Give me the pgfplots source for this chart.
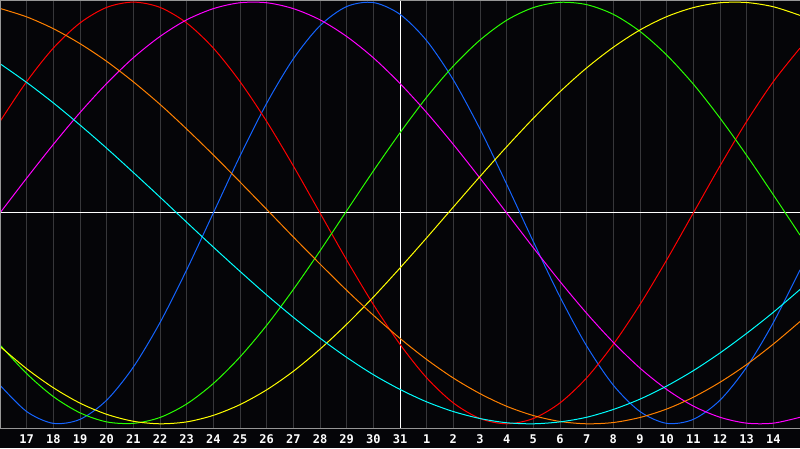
\documentclass[border=0pt]{standalone}
\usepackage{fontspec}
\setmonofont{DejaVu Sans Mono}
\usepackage{pgfplots}
\pgfplotsset{compat=1.18}
\definecolor{bg}{RGB}{5,5,8}
\definecolor{gridgray}{RGB}{55,55,58}
\definecolor{bordergray}{RGB}{150,150,150}
\definecolor{cphys}{RGB}{20,100,255}
\definecolor{cemo}{RGB}{255,0,0}
\definecolor{cint}{RGB}{40,255,0}
\definecolor{cintu}{RGB}{255,0,255}
\definecolor{caes}{RGB}{255,255,0}
\definecolor{cawa}{RGB}{255,128,0}
\definecolor{cspi}{RGB}{0,255,255}
\begin{document}
\begin{tikzpicture}
\fill[bg] (0,-20pt) rectangle (800pt,428pt);
\begin{axis}[at={(0,0)}, anchor=south west, width=800pt, height=428pt, scale only axis,
  xmin=0, xmax=30, ymin=-1.02, ymax=1.01, clip=false,
  axis line style={draw=none}, tick style={draw=none},
  xtick={1,...,29},
  xticklabels={17,18,19,20,21,22,23,24,25,26,27,28,29,30,31,1,2,3,4,5,6,7,8,9,10,11,12,13,14},
  ytick=\empty,
  xmajorgrids, major grid style={color=gridgray, line width=1pt},
  extra x ticks={15}, extra x tick labels={},
  extra y ticks={0}, extra y tick labels={},
  extra tick style={grid=major, major grid style={color=white, line width=1pt}},
  xticklabel style={anchor=base, yshift=-15pt, text=white, inner sep=0pt,
    font=\ttfamily\bfseries\fontsize{12}{12}\selectfont},
  every axis plot/.append style={line width=1pt, smooth, no markers}]
% physical 23
\addplot[cphys] coordinates {(0,-0.817)(1,-0.942)(2,-0.998)(3,-0.979)(4,-0.888)(5,-0.731)(6,-0.520)(7,-0.270)(8,0.000)(9,0.270)(10,0.520)(11,0.731)(12,0.888)(13,0.979)(14,0.998)(15,0.942)(16,0.817)(17,0.631)(18,0.398)(19,0.136)(20,-0.136)(21,-0.398)(22,-0.631)(23,-0.817)(24,-0.942)(25,-0.998)(26,-0.979)(27,-0.888)(28,-0.731)(29,-0.520)(30,-0.270)};
% emotional 28
\addplot[cemo] coordinates {(0,0.434)(1,0.623)(2,0.782)(3,0.901)(4,0.975)(5,1.000)(6,0.975)(7,0.901)(8,0.782)(9,0.623)(10,0.434)(11,0.223)(12,0.000)(13,-0.223)(14,-0.434)(15,-0.623)(16,-0.782)(17,-0.901)(18,-0.975)(19,-1.000)(20,-0.975)(21,-0.901)(22,-0.782)(23,-0.623)(24,-0.434)(25,-0.223)(26,0.000)(27,0.223)(28,0.434)(29,0.623)(30,0.782)};
% intellectual 33
\addplot[cint] coordinates {(0,-0.626)(1,-0.762)(2,-0.871)(3,-0.948)(4,-0.991)(5,-0.998)(6,-0.970)(7,-0.906)(8,-0.809)(9,-0.683)(10,-0.533)(11,-0.363)(12,-0.180)(13,0.010)(14,0.199)(15,0.380)(16,0.549)(17,0.697)(18,0.820)(19,0.914)(20,0.974)(21,0.999)(22,0.988)(23,0.942)(24,0.861)(25,0.749)(26,0.611)(27,0.450)(28,0.273)(29,0.086)(30,-0.105)};
% intuitive 38
\addplot[cintu] coordinates {(0,0.000)(1,0.165)(2,0.325)(3,0.476)(4,0.614)(5,0.736)(6,0.837)(7,0.916)(8,0.969)(9,0.997)(10,0.997)(11,0.969)(12,0.916)(13,0.837)(14,0.736)(15,0.614)(16,0.476)(17,0.325)(18,0.165)(19,0.000)(20,-0.165)(21,-0.325)(22,-0.476)(23,-0.614)(24,-0.736)(25,-0.837)(26,-0.916)(27,-0.969)(28,-0.997)(29,-0.997)(30,-0.969)};
% aesthetic 43
\addplot[caes] coordinates {(0,-0.633)(1,-0.739)(2,-0.829)(3,-0.902)(4,-0.955)(5,-0.988)(6,-1.000)(7,-0.991)(8,-0.960)(9,-0.909)(10,-0.839)(11,-0.751)(12,-0.646)(13,-0.528)(14,-0.399)(15,-0.261)(16,-0.118)(17,0.028)(18,0.173)(19,0.314)(20,0.449)(21,0.575)(22,0.688)(23,0.786)(24,0.868)(25,0.931)(26,0.974)(27,0.997)(28,0.998)(29,0.978)(30,0.937)};
% awareness 48
\addplot[cawa] coordinates {(0,0.970)(1,0.930)(2,0.874)(3,0.803)(4,0.719)(5,0.622)(6,0.515)(7,0.398)(8,0.275)(9,0.147)(10,0.017)(11,-0.114)(12,-0.242)(13,-0.367)(14,-0.485)(15,-0.595)(16,-0.695)(17,-0.783)(18,-0.857)(19,-0.917)(20,-0.961)(21,-0.989)(22,-1.000)(23,-0.994)(24,-0.970)(25,-0.930)(26,-0.874)(27,-0.803)(28,-0.719)(29,-0.622)(30,-0.515)};
% spiritual 53
\addplot[cspi] coordinates {(0,0.708)(1,0.619)(2,0.522)(3,0.417)(4,0.307)(5,0.192)(6,0.075)(7,-0.044)(8,-0.162)(9,-0.277)(10,-0.389)(11,-0.495)(12,-0.594)(13,-0.685)(14,-0.767)(15,-0.837)(16,-0.896)(17,-0.942)(18,-0.975)(19,-0.995)(20,-1.000)(21,-0.991)(22,-0.969)(23,-0.932)(24,-0.883)(25,-0.821)(26,-0.748)(27,-0.664)(28,-0.571)(29,-0.471)(30,-0.363)};
\end{axis}
\draw[bordergray, line width=1pt] (0,427.5pt) -- (800pt,427.5pt);
\draw[bordergray, line width=1pt] (0,0) -- (800pt,0);
\draw[bordergray, line width=1pt] (0.5pt,0) -- (0.5pt,428pt);
\pgfresetboundingbox
\useasboundingbox (0,-20pt) rectangle (800pt,428pt);
\end{tikzpicture}
\end{document}
